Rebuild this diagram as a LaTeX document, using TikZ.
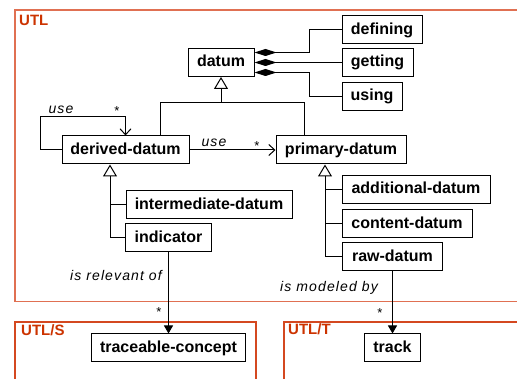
\documentclass[tikz,border=0pt]{standalone}
\usepackage{fontspec}
\setmainfont{Liberation Sans}
\newfontfamily\lblfont[LetterSpace=8]{Liberation Sans}
\usetikzlibrary{arrows.meta}
\definecolor{frameA}{RGB}{224,112,82}
\definecolor{frameB}{RGB}{212,72,32}
\definecolor{ttl}{RGB}{204,51,0}
\tikzset{
  box/.style={draw, line width=1pt, font=\bfseries\fontsize{16}{18}\selectfont,
    minimum height=28pt, inner sep=0pt, text height=12pt, text depth=3.5pt},
  lbl/.style={font=\lblfont\itshape\fontsize{14}{16}\selectfont, inner sep=0pt},
  star/.style={font=\fontsize{13}{14}\selectfont, inner sep=0pt},
  conn/.style={line width=1pt},
  comp/.style={conn, {Diamond[length=22pt,width=7pt]}-},
  gen/.style={conn, -{Triangle[open,length=12pt,width=14pt]}},
  opena/.style={conn, -{Straight Barb[length=6pt,width=11pt]}},
  fila/.style={conn, -{Triangle[length=8pt,width=9pt]}},
  ttlf/.style={font=\bfseries\fontsize{15}{17}\selectfont, text=ttl, inner sep=0pt, anchor=base west},
}
\begin{document}
\begin{tikzpicture}[x=1pt,y=-1pt]
\useasboundingbox (0,0) rectangle (517,379);
% frames
\draw[frameA, line width=1.4pt] (15,10) rectangle (530,301.5);
\draw[frameB, line width=1.1pt] (15,322) rectangle (256,395);
\draw[frameB, line width=1.1pt] (284,322) rectangle (530,395);
\node[ttlf] (tUTL) at (19,25.5) {UTL};
\node[ttlf] (tUTLS) at (21,335.5) {UTL/S};
\node[ttlf] (tUTLT) at (288,335) {UTL/T};
% boxes
\node[box, minimum width=66pt] (datum) at (221,62.5) {datum};
\node[box, minimum width=80pt] (defining) at (382,30) {defining};
\node[box, minimum width=71pt] (getting) at (377.5,62.5) {getting};
\node[box, minimum width=60pt] (using) at (372,96.5) {using};
\node[box, minimum width=127pt] (derived) at (125.5,150) {derived-datum};
\node[box, minimum width=130pt] (primary) at (341,150) {primary-datum};
\node[box, minimum width=166pt] (intermediate) at (209,205) {intermediate-datum};
\node[box, minimum width=86pt] (indicator) at (168.5,238) {indicator};
\node[box, minimum width=148pt] (additional) at (416,189.5) {additional-datum};
\node[box, minimum width=130pt] (content) at (407,224) {content-datum};
\node[box, minimum width=100pt] (raw) at (392.5,257) {raw-datum};
\node[box, minimum width=154pt] (traceable) at (168.5,348) {traceable-concept};
\node[box, minimum width=56pt] (track) at (392.5,348) {track};
% compositions
\draw[comp] ([yshift=10pt]datum.east) -- ++(55,0) |- (defining.west);
\draw[comp] (datum.east) -- (getting.west);
\draw[comp] ([yshift=-10pt]datum.east) -- ++(55,0) |- (using.west);
% generalization to datum
\coordinate (jL) at (160,103);
\coordinate (jR) at (304,103);
\coordinate (jM) at (221,103);
\draw[conn] (derived.north -| jL) |- (jR) -- (primary.north -| jR);
\draw[gen] (jM) -- (datum.south);
% use associations
\draw[opena] (derived.west) -- ++(-21,0) |- ([yshift=19pt]derived.north) -- (derived.north);
\draw[opena] (derived.east) -- (primary.west);
\node[lbl] (use1) at (61,110) {use};
\node[star] (star1) at (117,111) {*};
\node[lbl] (use2) at (214,143) {use};
\node[star] (star2) at (257,146) {*};
% generalization to derived
\coordinate (dl) at (110,238);
\draw[gen] (dl) -- (derived.south -| dl);
\draw[conn] (intermediate.west -| dl) -- (intermediate.west);
\draw[conn] (dl) -- (indicator.west);
% generalization to primary
\coordinate (pl) at (325,257);
\draw[gen] (pl) -- (primary.south -| pl);
\draw[conn] (additional.west -| pl) -- (additional.west);
\draw[conn] (content.west -| pl) -- (content.west);
\draw[conn] (pl) -- (raw.west);
% cross-package associations
\draw[fila] (indicator.south) -- (traceable.north);
\draw[fila] (raw.south) -- (track.north);
\node[lbl, anchor=east] (rel) at (162,275) {is relevant of};
\node[star] (star3) at (159,312) {*};
\node[lbl] (mod) at (329,288) {is modeled by};
\node[star] (star4) at (380,313) {*};
\end{tikzpicture}
\end{document}
